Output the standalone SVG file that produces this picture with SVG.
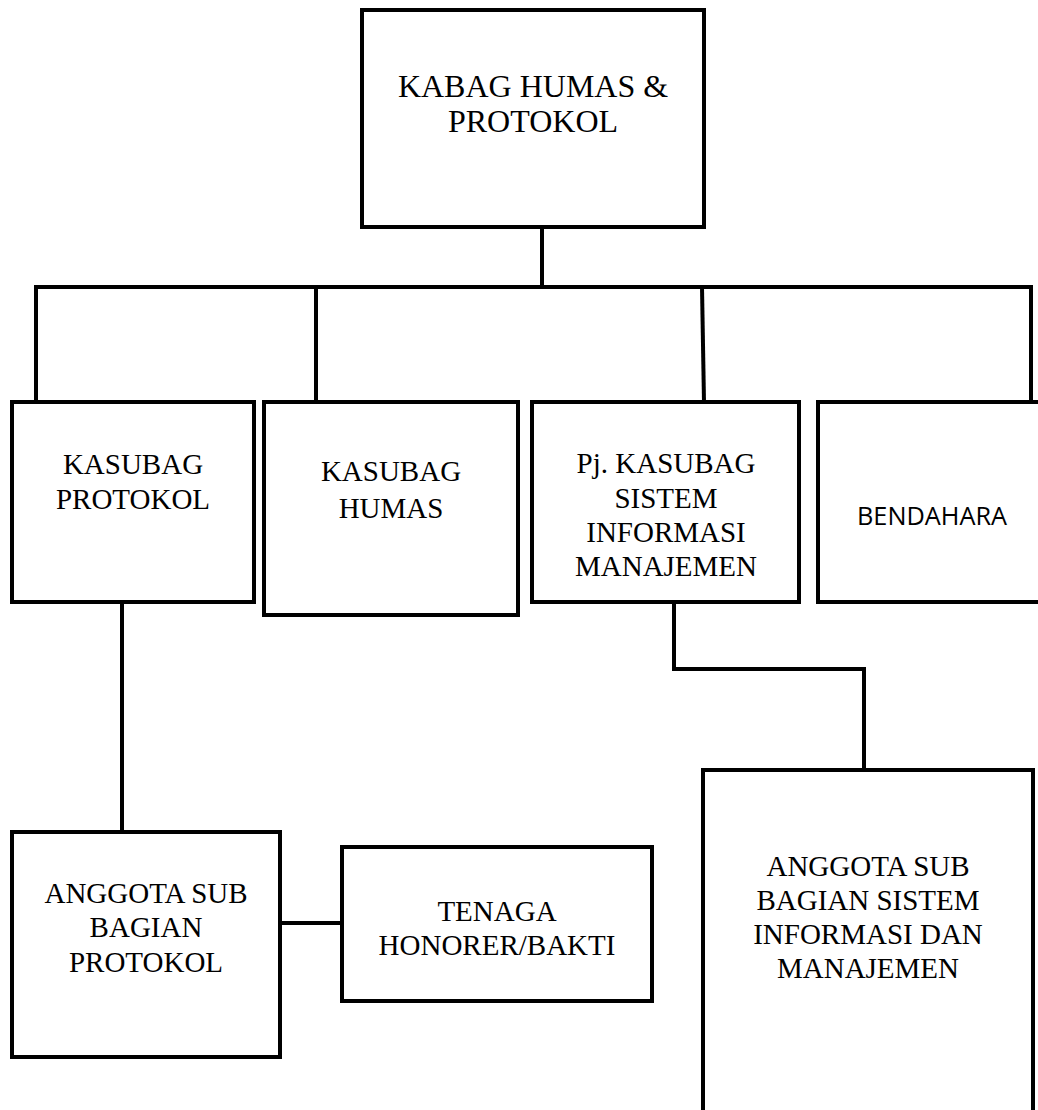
<svg xmlns="http://www.w3.org/2000/svg" width="1038" height="1110" viewBox="0 0 1038 1110">
<style>
.box{fill:#fff;stroke:#000;stroke-width:4}
.ln{fill:none;stroke:#000;stroke-width:4;stroke-linecap:square}
.t{font-family:"Liberation Serif","Times New Roman",serif;font-size:29px;fill:#000;text-anchor:middle}
.big{font-size:32px}
.s{font-family:"Open Sans","Liberation Sans",Arial,sans-serif;font-size:25px;fill:#000;text-anchor:middle}
</style>
<rect width="1038" height="1110" fill="#fff"/>
<g id="connectors">
<line class="ln" x1="542" y1="227" x2="542" y2="287"/>
<line class="ln" x1="36" y1="287" x2="1031" y2="287"/>
<line class="ln" x1="36" y1="287" x2="36" y2="402"/>
<line class="ln" x1="316" y1="287" x2="316" y2="402"/>
<line class="ln" x1="702" y1="287" x2="704" y2="402"/>
<line class="ln" x1="1031" y1="287" x2="1031" y2="402"/>
<line class="ln" x1="122" y1="602" x2="122" y2="832"/>
<line class="ln" x1="280" y1="923" x2="342" y2="923"/>
<polyline class="ln" points="674,602 674,669 864,669 864,770"/>
</g>
<g id="kabag">
<rect class="box" x="362" y="10" width="342" height="217"/>
<text class="t big" x="533" y="97">KABAG HUMAS &amp;</text>
<text class="t big" x="533" y="132">PROTOKOL</text>
</g>
<g id="kasubag-protokol">
<rect class="box" x="12" y="402" width="242" height="200"/>
<text class="t" x="133" y="474">KASUBAG</text>
<text class="t" x="133" y="509">PROTOKOL</text>
</g>
<g id="kasubag-humas">
<rect class="box" x="264" y="402" width="254" height="213"/>
<text class="t" x="391" y="481">KASUBAG</text>
<text class="t" x="391" y="518">HUMAS</text>
</g>
<g id="kasubag-sim">
<rect class="box" x="532" y="402" width="267" height="200"/>
<text class="t" x="666" y="473">Pj. KASUBAG</text>
<text class="t" x="666" y="508">SISTEM</text>
<text class="t" x="666" y="542">INFORMASI</text>
<text class="t" x="666" y="576">MANAJEMEN</text>
</g>
<g id="bendahara">
<rect class="box" x="818" y="402" width="260" height="200"/>
<text class="s" x="932" y="525" textLength="150" lengthAdjust="spacingAndGlyphs">BENDAHARA</text>
</g>
<g id="anggota-protokol">
<rect class="box" x="12" y="832" width="268" height="225"/>
<text class="t" x="146" y="903">ANGGOTA SUB</text>
<text class="t" x="146" y="937">BAGIAN</text>
<text class="t" x="146" y="972">PROTOKOL</text>
</g>
<g id="tenaga">
<rect class="box" x="342" y="847" width="310" height="154"/>
<text class="t" x="497" y="921">TENAGA</text>
<text class="t" x="497" y="955">HONORER/BAKTI</text>
</g>
<g id="anggota-sim">
<rect class="box" x="703" y="770" width="330" height="400"/>
<text class="t" x="868" y="876">ANGGOTA SUB</text>
<text class="t" x="868" y="910">BAGIAN SISTEM</text>
<text class="t" x="868" y="944">INFORMASI DAN</text>
<text class="t" x="868" y="978">MANAJEMEN</text>
</g>
</svg>
